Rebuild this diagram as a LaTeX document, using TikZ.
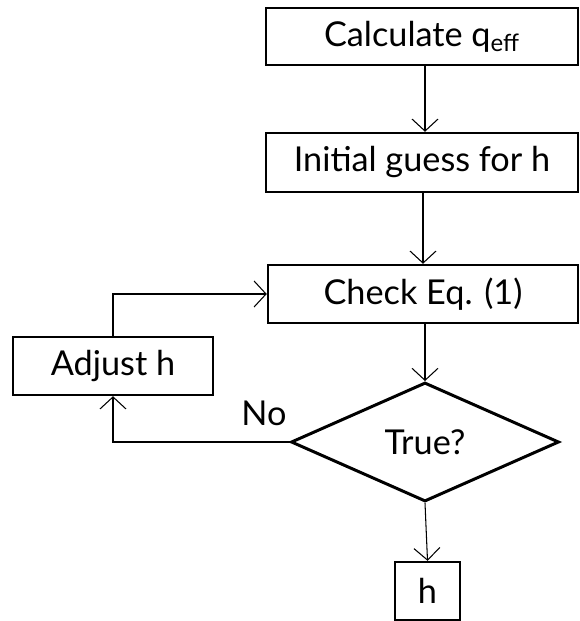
\documentclass[tikz,border=0pt]{standalone}
\usepackage{fontspec}
\setmainfont{Lato}
\usetikzlibrary{shapes.geometric,arrows.meta}

\tikzset{
		box/.style={draw, line width=1.4pt, minimum height=1.16cm, inner sep=0pt},
		decision/.style={draw, diamond, aspect=2.25, line width=1.7pt, minimum width=5.36cm, minimum height=2.38cm, inner sep=0pt},
		arrow/.style={-{Straight Barb[length=2.4mm,width=5.2mm]}, line width=0.6pt}
	}

\begin{document}
\begin{tikzpicture}[font=\fontsize{19.5}{23}\selectfont]

\useasboundingbox (0,0) rectangle (11.58,-12.42);

\node (calc) at (8.44,-0.73) [box,minimum width=6.24cm,minimum height=1.14cm] {Calculate q\textsubscript{eff}};
\node (guess) at (8.44,-3.25) [box,minimum width=6.24cm,minimum height=1.18cm] {Initial guess for h};
\node (check) at (8.46,-5.88) [box,minimum width=6.2cm] {Check Eq. (1)};

\node (adjust) at (2.26,-7.32) [box,minimum width=4cm] {Adjust h};
\node (true) at (8.5,-8.84) [decision] {True?};

\node (result) at (8.55,-11.82) [box,minimum width=1.3cm] {h};
\node (no) at (5.28,-8.26) {No};


\draw [arrow]  (calc.south -| 8.5,0) -- (guess.north -| 8.5,0) ;
\draw [arrow]  (guess.south -| 8.46,0) -- (check.north -| 8.46,0) ;
\draw [arrow]  (check.south -| true.north) -- (true.north) ;
\draw [arrow]  (true.south) -- (result.north) ;

\draw [arrow]  (true.west) -| (adjust.south) ;
\draw [arrow]  (adjust.north) |- (check.west) ;

\end{tikzpicture}
\end{document}
